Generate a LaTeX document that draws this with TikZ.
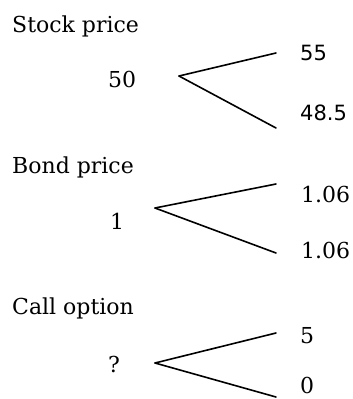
\documentclass[tikz,border=0pt]{standalone}
\usepackage{fontspec}
\setmainfont{DejaVu Serif}
\newfontfamily\numsans{DejaVu Sans}
\usepackage{tikz}
\usetikzlibrary{positioning}
\tikzset{
  treelabel/.style={anchor=base west,inner sep=0pt,font=\fontsize{22}{26}\selectfont},
  treeval/.style={anchor=base west,inner sep=0pt,font=\fontsize{22}{26}\selectfont},
  treevalsans/.style={anchor=base west,inner sep=0pt,font=\fontsize{21}{25}\selectfont\numsans},
  branch/.style={line width=1.6pt,line cap=round}
}

\begin{document}
\begin{tikzpicture}[x=1pt,y=-1pt]
      \useasboundingbox (0,0) rectangle (353,399);
      % stock tree
      \node[treelabel] (stocklbl) at (12,32) {Stock price};
      \node[treeval] (stock0) at (108,87) {50};
      \coordinate (stockroot) at (179,76);
      \coordinate (stockup) at (276,53);
      \coordinate (stockdown) at (276,128);
      \node[treevalsans] (stockhi) at (300,60) {55};
      \node[treevalsans] (stocklo) at (300,120) {48.5};
      \draw[branch] (stockroot) -- (stockup);
      \draw[branch] (stockroot) -- (stockdown);
      % bond tree
      \node[treelabel] (bondlbl) at (12,173) {Bond price};
      \node[treeval] (bond0) at (110,229) {1};
      \coordinate (bondroot) at (155,208);
      \coordinate (bondup) at (276,184);
      \coordinate (bonddown) at (276,253);
      \node[treeval] (bondhi) at (301,202) {1.06};
      \node[treeval] (bondlo) at (301,258) {1.06};
      \draw[branch] (bondroot) -- (bondup);
      \draw[branch] (bondroot) -- (bonddown);
      % call tree
      \node[treelabel] (calllbl) at (12,314) {Call option};
      \node[treeval] (call0) at (108,372) {?};
      \coordinate (callroot) at (155,363);
      \coordinate (callup) at (276,333);
      \coordinate (calldown) at (276,397);
      \node[treeval] (callhi) at (300,343) {5};
      \node[treeval] (calllo) at (300,393) {0};
      \draw[branch] (callroot) -- (callup);
      \draw[branch] (callroot) -- (calldown);
\end{tikzpicture}
\end{document}
